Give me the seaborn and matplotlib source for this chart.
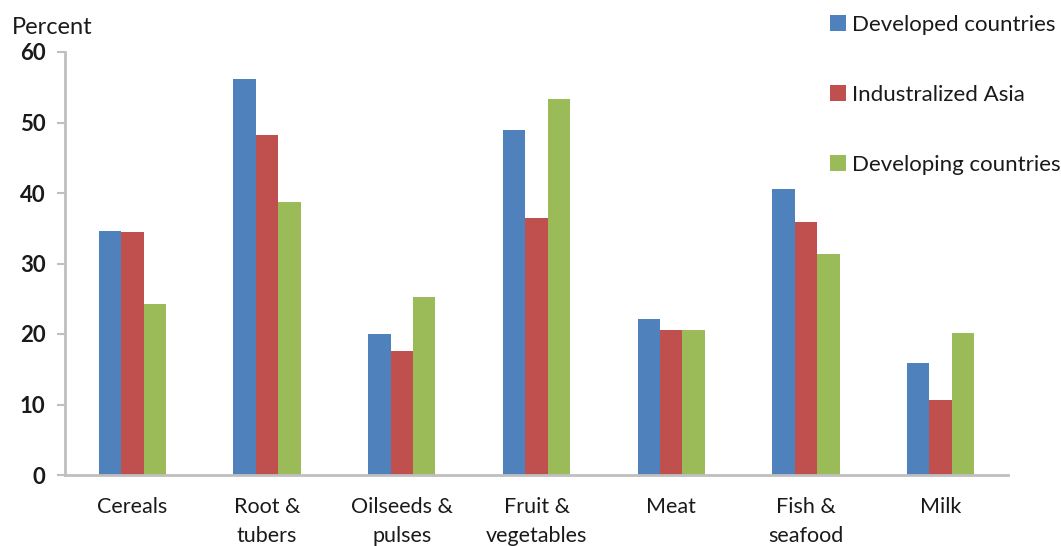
import matplotlib
matplotlib.use("Agg")
import matplotlib.pyplot as plt
import seaborn as sns
import pandas as pd
from matplotlib.patches import Patch

categories = ["Cereals", "Root &\ntubers", "Oilseeds &\npulses", "Fruit &\nvegetables",
              "Meat", "Fish &\nseafood", "Milk"]
series_names = ["Developed countries", "Industralized Asia", "Developing countries"]
developed = [34.6, 56.2, 20.0, 49.0, 22.1, 40.6, 15.9]
ind_asia = [34.4, 48.2, 17.6, 36.5, 20.6, 35.9, 10.7]
developing = [24.3, 38.7, 25.2, 53.3, 20.5, 31.4, 20.2]
yticks = [0, 10, 20, 30, 40, 50, 60]
colors = ["#4F81BD", "#C0504D", "#9BBB59"]

rows = []
for name, vals in zip(series_names, [developed, ind_asia, developing]):
    for c, v in zip(categories, vals):
        rows.append({"category": c, "series": name, "value": v})
df = pd.DataFrame(rows)

sns.set_style("white")
plt.rcParams['font.family'] = ['Lato', 'DejaVu Sans']

fig = plt.figure(figsize=(10.61, 5.46), dpi=100)
ax = fig.add_axes([65/1061, (546-475)/546, 943/1061, 423/546])

sns.barplot(data=df, x="category", y="value", hue="series", order=categories,
            hue_order=series_names, palette=colors, width=0.5, gap=0,
            linewidth=0, saturation=1, ax=ax, legend=False)

ax.set_ylim(0, 60)
ax.set_yticks(yticks)
ax.set_xlim(-0.5, len(categories) - 0.5)
ax.set_xlabel("")
ax.set_ylabel("")
for s in ["top", "right"]:
    ax.spines[s].set_visible(False)
for s in ["left", "bottom"]:
    ax.spines[s].set_color("#BFBFBF")
    ax.spines[s].set_linewidth(2)
ax.tick_params(axis="y", which="major", left=True, length=6, width=1.5, color="#BFBFBF",
               labelsize=16, pad=8, labelcolor="#1a1a1a")
ax.tick_params(axis="x", bottom=False, labelsize=15.5, pad=12, labelcolor="#1a1a1a")
for lab in ax.get_yticklabels():
    lab.set_fontweight("bold")
for lab in ax.get_xticklabels():
    lab.set_linespacing(1.6)
    lab.set_verticalalignment("top")

fig.text(12/1061, 1 - 28/546, "Percent", fontsize=17, va="center", ha="left", color="#1a1a1a")

handles = [Patch(facecolor=c, edgecolor="none") for c in colors]
leg = fig.legend(handles, series_names, loc="upper left",
                 bbox_to_anchor=(830/1061, 1 - 15/546), frameon=False,
                 fontsize=16, handlelength=0.7, handleheight=0.7,
                 handletextpad=0.3, labelspacing=2.25, borderaxespad=0, borderpad=0)
for t in leg.get_texts():
    t.set_color("#1a1a1a")

fig.savefig("out.png", dpi=100)
